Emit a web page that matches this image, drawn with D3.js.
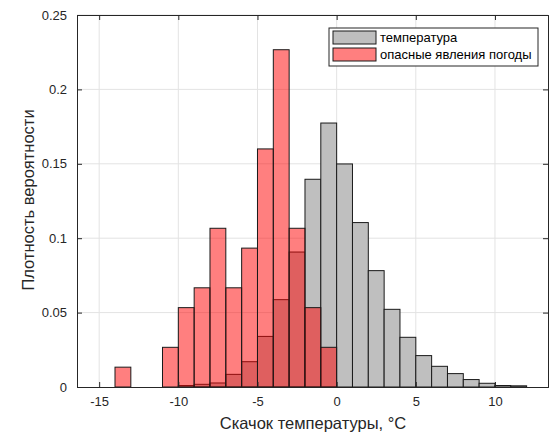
<!DOCTYPE html>
<html>
<head>
<meta charset="utf-8">
<script src="https://cdn.jsdelivr.net/npm/d3@7/dist/d3.min.js"></script>
<style>
  html, body { margin: 0; padding: 0; background: #fff; }
  svg { display: block; font-family: "Liberation Sans", Arial, sans-serif; }
</style>
</head>
<body>
<svg id="chart" width="559" height="434"></svg>
<script>
// Histogram bin left edges (bin width 1 °C)
const tempBinStarts = [-10, -9, -8, -7, -6, -5, -4, -3, -2, -1, 0, 1, 2, 3, 4, 5, 6, 7, 8, 9, 10, 11];
// Probability density of all temperature jumps
const tempDensity = [0.001, 0.0018, 0.0027, 0.0085, 0.017, 0.034, 0.0587, 0.0907, 0.1396, 0.1774, 0.1499, 0.1105, 0.0782, 0.0522, 0.0334, 0.0211, 0.0139, 0.009, 0.005, 0.0025, 0.001, 0.0008];

// Jumps accompanied by hazardous weather (75 events)
const hazardBinStarts = [-14, -13, -12, -11, -10, -9, -8, -7, -6, -5, -4, -3, -2, -1];
const hazardDensity = [1/75, 0, 0, 2/75, 4/75, 5/75, 8/75, 5/75, 7/75, 12/75, 17/75, 8/75, 4/75, 2/75];

const xTicks = [-15, -10, -5, 0, 5, 10];
const yTicks = [0, 0.05, 0.1, 0.15, 0.2, 0.25];
const yTickLabels = ["0", "0.05", "0.1", "0.15", "0.2", "0.25"];
const legendLabels = ["температура", "опасные явления погоды"];
const xLabel = "Скачок температуры, °C";
const yLabel = "Плотность вероятности";

const svg = d3.select("#chart");
const m = { left: 77, right: 548, top: 15, bottom: 387 };

const x = d3.scaleLinear().domain([-16.4, 13.35]).range([m.left, m.right]);
const y = d3.scaleLinear().domain([0, 0.25]).range([m.bottom, m.top]);

const axisColor = "#262626";

// grid
const grid = svg.append("g");
grid.selectAll("line.vx").data(xTicks).join("line")
  .attr("x1", d => x(d)).attr("x2", d => x(d))
  .attr("y1", m.top).attr("y2", m.bottom)
  .attr("stroke", "#e3e3e3").attr("stroke-width", 1);
grid.selectAll("line.hy").data(yTicks.slice(1)).join("line")
  .attr("x1", m.left).attr("x2", m.right)
  .attr("y1", d => y(d)).attr("y2", d => y(d))
  .attr("stroke", "#e3e3e3").attr("stroke-width", 1);

// temperature bars
svg.append("g").selectAll("rect").data(tempBinStarts.map((s, i) => ({ s, v: tempDensity[i] }))).join("rect")
  .attr("x", d => x(d.s))
  .attr("width", d => x(d.s + 1) - x(d.s))
  .attr("y", d => y(d.v))
  .attr("height", d => y(0) - y(d.v))
  .attr("fill", "#bfbfbf")
  .attr("stroke", "#1a1a1a").attr("stroke-width", 1);

// hazardous-weather bars, semi-transparent on top
svg.append("g").selectAll("rect").data(hazardBinStarts.map((s, i) => ({ s, v: hazardDensity[i] })).filter(d => d.v > 0)).join("rect")
  .attr("x", d => x(d.s))
  .attr("width", d => x(d.s + 1) - x(d.s))
  .attr("y", d => y(d.v))
  .attr("height", d => y(0) - y(d.v))
  .attr("fill", "#ff0000").attr("fill-opacity", 0.5)
  .attr("stroke", "#1a1a1a").attr("stroke-width", 1);

// axes (box with inward ticks on all sides)
const tickLen = 5;
const axB = svg.append("g").attr("transform", `translate(0,${m.bottom})`)
  .call(d3.axisBottom(x).tickValues(xTicks).tickSize(-tickLen).tickPadding(10).tickFormat(d3.format("d")));
const axT = svg.append("g").attr("transform", `translate(0,${m.top})`)
  .call(d3.axisTop(x).tickValues(xTicks).tickSize(-tickLen).tickFormat(""));
const axL = svg.append("g").attr("transform", `translate(${m.left},0)`)
  .call(d3.axisLeft(y).tickValues(yTicks).tickSize(-tickLen).tickPadding(10).tickFormat((d, i) => yTickLabels[i]));
const axR = svg.append("g").attr("transform", `translate(${m.right},0)`)
  .call(d3.axisRight(y).tickValues(yTicks).tickSize(-tickLen).tickFormat(""));
[axB, axT, axL, axR].forEach(a => {
  a.select(".domain").attr("stroke", axisColor).attr("stroke-width", 1);
  a.selectAll(".tick line").attr("stroke", axisColor);
  a.selectAll("text").attr("fill", axisColor).attr("font-size", 13)
    .attr("font-family", "'Liberation Sans', Arial, sans-serif");
});
axB.selectAll(".tick text").text(d => d < 0 ? "-" + Math.abs(d) : d);

// axis titles
svg.append("text").attr("x", 313).attr("y", 429)
  .attr("text-anchor", "middle").attr("font-size", 16.5).attr("fill", axisColor)
  .text(xLabel);
svg.append("text").attr("transform", `translate(34,200) rotate(-90)`)
  .attr("text-anchor", "middle").attr("font-size", 16.5).attr("fill", axisColor)
  .text(yLabel);

// legend
const lg = svg.append("g").attr("transform", "translate(329,28)");
lg.append("rect").attr("width", 209).attr("height", 38)
  .attr("fill", "#fff").attr("stroke", axisColor).attr("stroke-width", 1);
const swatch = [{ fill: "#bfbfbf", op: 1 }, { fill: "#ff0000", op: 0.5 }];
legendLabels.forEach((t, i) => {
  const yy = 3 + i * 17;
  lg.append("rect").attr("x", 4).attr("y", yy).attr("width", 43).attr("height", 13)
    .attr("fill", swatch[i].fill).attr("fill-opacity", swatch[i].op)
    .attr("stroke", "#1a1a1a").attr("stroke-width", 1);
  lg.append("text").attr("x", 51).attr("y", yy + 11)
    .attr("font-size", 13).attr("fill", "#000").text(t);
});
</script>
</body>
</html>
